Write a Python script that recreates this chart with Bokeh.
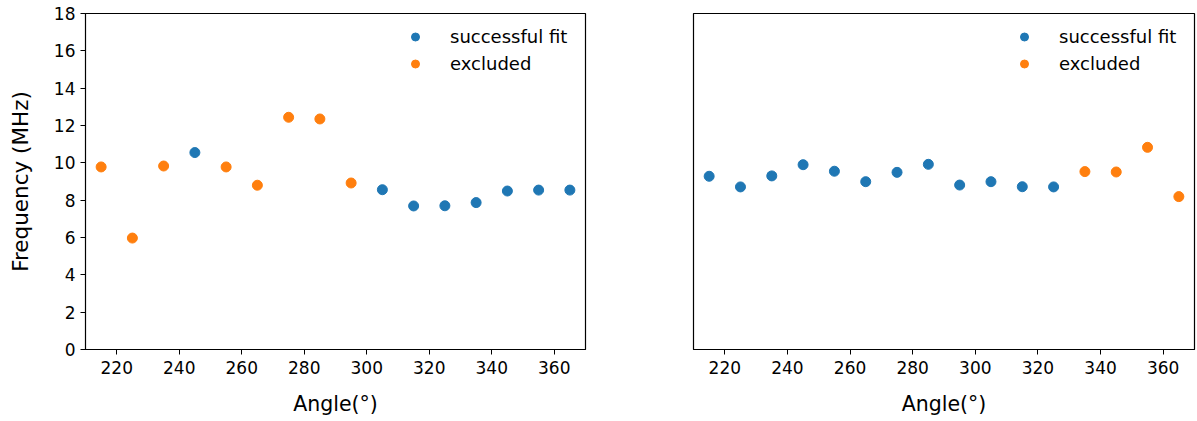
from bokeh.plotting import figure
from bokeh.layouts import row
from bokeh.models import ColumnDataSource, FixedTicker, Range1d, Legend, LegendItem
from bokeh.embed import file_html
from bokeh.resources import INLINE

angles = [215, 225, 235, 245, 255, 265, 275, 285, 295, 305, 315, 325, 335, 345, 355, 365]
left_freq = [9.78, 5.97, 9.83, 10.55, 9.78, 8.80, 12.44, 12.35, 8.92, 8.56, 7.69, 7.70, 7.87, 8.49, 8.54, 8.54]
left_status = ["excluded", "excluded", "excluded", "fit", "excluded", "excluded", "excluded", "excluded",
               "excluded", "fit", "fit", "fit", "fit", "fit", "fit", "fit"]
right_freq = [9.28, 8.71, 9.30, 9.90, 9.55, 8.99, 9.49, 9.92, 8.81, 8.99, 8.72, 8.71, 9.53, 9.51, 10.83, 8.19]
right_status = ["fit"] * 12 + ["excluded"] * 4

x_ticks = [220, 240, 260, 280, 300, 320, 340, 360]
y_ticks = [0, 2, 4, 6, 8, 10, 12, 14, 16, 18]
legend_labels = {"fit": "successful fit", "excluded": "excluded"}
colors = {"fit": "#1f77b4", "excluded": "#ff7f0e"}

FONT = "DejaVu Sans"


def make_panel(freq, status, width, border_left, border_right, show_y):
    p = figure(width=width, height=421, output_backend="svg", toolbar_location=None,
               x_range=Range1d(210, 370), y_range=Range1d(0, 18),
               min_border_left=border_left, min_border_right=border_right,
               min_border_top=13, min_border_bottom=72)
    p.grid.visible = False
    p.outline_line_color = "black"
    p.outline_line_width = 1.2
    p.outline_line_alpha = 1
    p.background_fill_color = "white"
    p.border_fill_color = "white"

    items = []
    for key in ["fit", "excluded"]:
        xs = [a for a, s in zip(angles, status) if s == key]
        ys = [f for f, s in zip(freq, status) if s == key]
        src = ColumnDataSource(dict(x=xs, y=ys))
        r = p.scatter("x", "y", source=src, size=10, color=colors[key], line_color=colors[key])
        items.append(LegendItem(label=legend_labels[key], renderers=[r]))

    leg = Legend(items=items, location="top_right", border_line_alpha=0,
                 background_fill_alpha=0, label_text_font=FONT,
                 label_text_font_size="18px", label_text_color="black",
                 label_standoff=25, glyph_width=20,
                 glyph_height=21, label_height=21, spacing=6, padding=10, margin=3,
                 label_width=122)
    p.add_layout(leg)

    for ax in [p.xaxis[0], p.yaxis[0]]:
        ax.major_label_text_font = FONT
        ax.major_label_text_font_size = "17px"
        ax.major_label_text_color = "black"
        ax.axis_label_text_font = FONT
        ax.axis_label_text_font_size = "20.5px"
        ax.axis_label_text_font_style = "normal"
        ax.axis_label_text_color = "black"
        ax.axis_line_color = "black"
        ax.major_tick_line_color = "black"
        ax.major_tick_out = 5
        ax.major_tick_in = 0
        ax.minor_tick_line_color = None

    p.xaxis.major_label_standoff = 6
    p.yaxis.major_label_standoff = 5
    p.xaxis.ticker = FixedTicker(ticks=x_ticks)
    p.yaxis.ticker = FixedTicker(ticks=y_ticks)
    p.xaxis.axis_label = "Angle(°)"
    p.xaxis.axis_label_standoff = 15
    if show_y:
        p.yaxis.axis_label = "Frequency (MHz)"
        p.yaxis.axis_label_text_font_size = "21.5px"
        p.yaxis.axis_label_standoff = 18
    else:
        p.yaxis.visible = False
    return p


p1 = make_panel(left_freq, left_status, 600, 85, 15, True)
p2 = make_panel(right_freq, right_status, 597, 93, 3, False)
p = row(p1, p2)

open("out.html", "w").write(file_html(p, INLINE))
